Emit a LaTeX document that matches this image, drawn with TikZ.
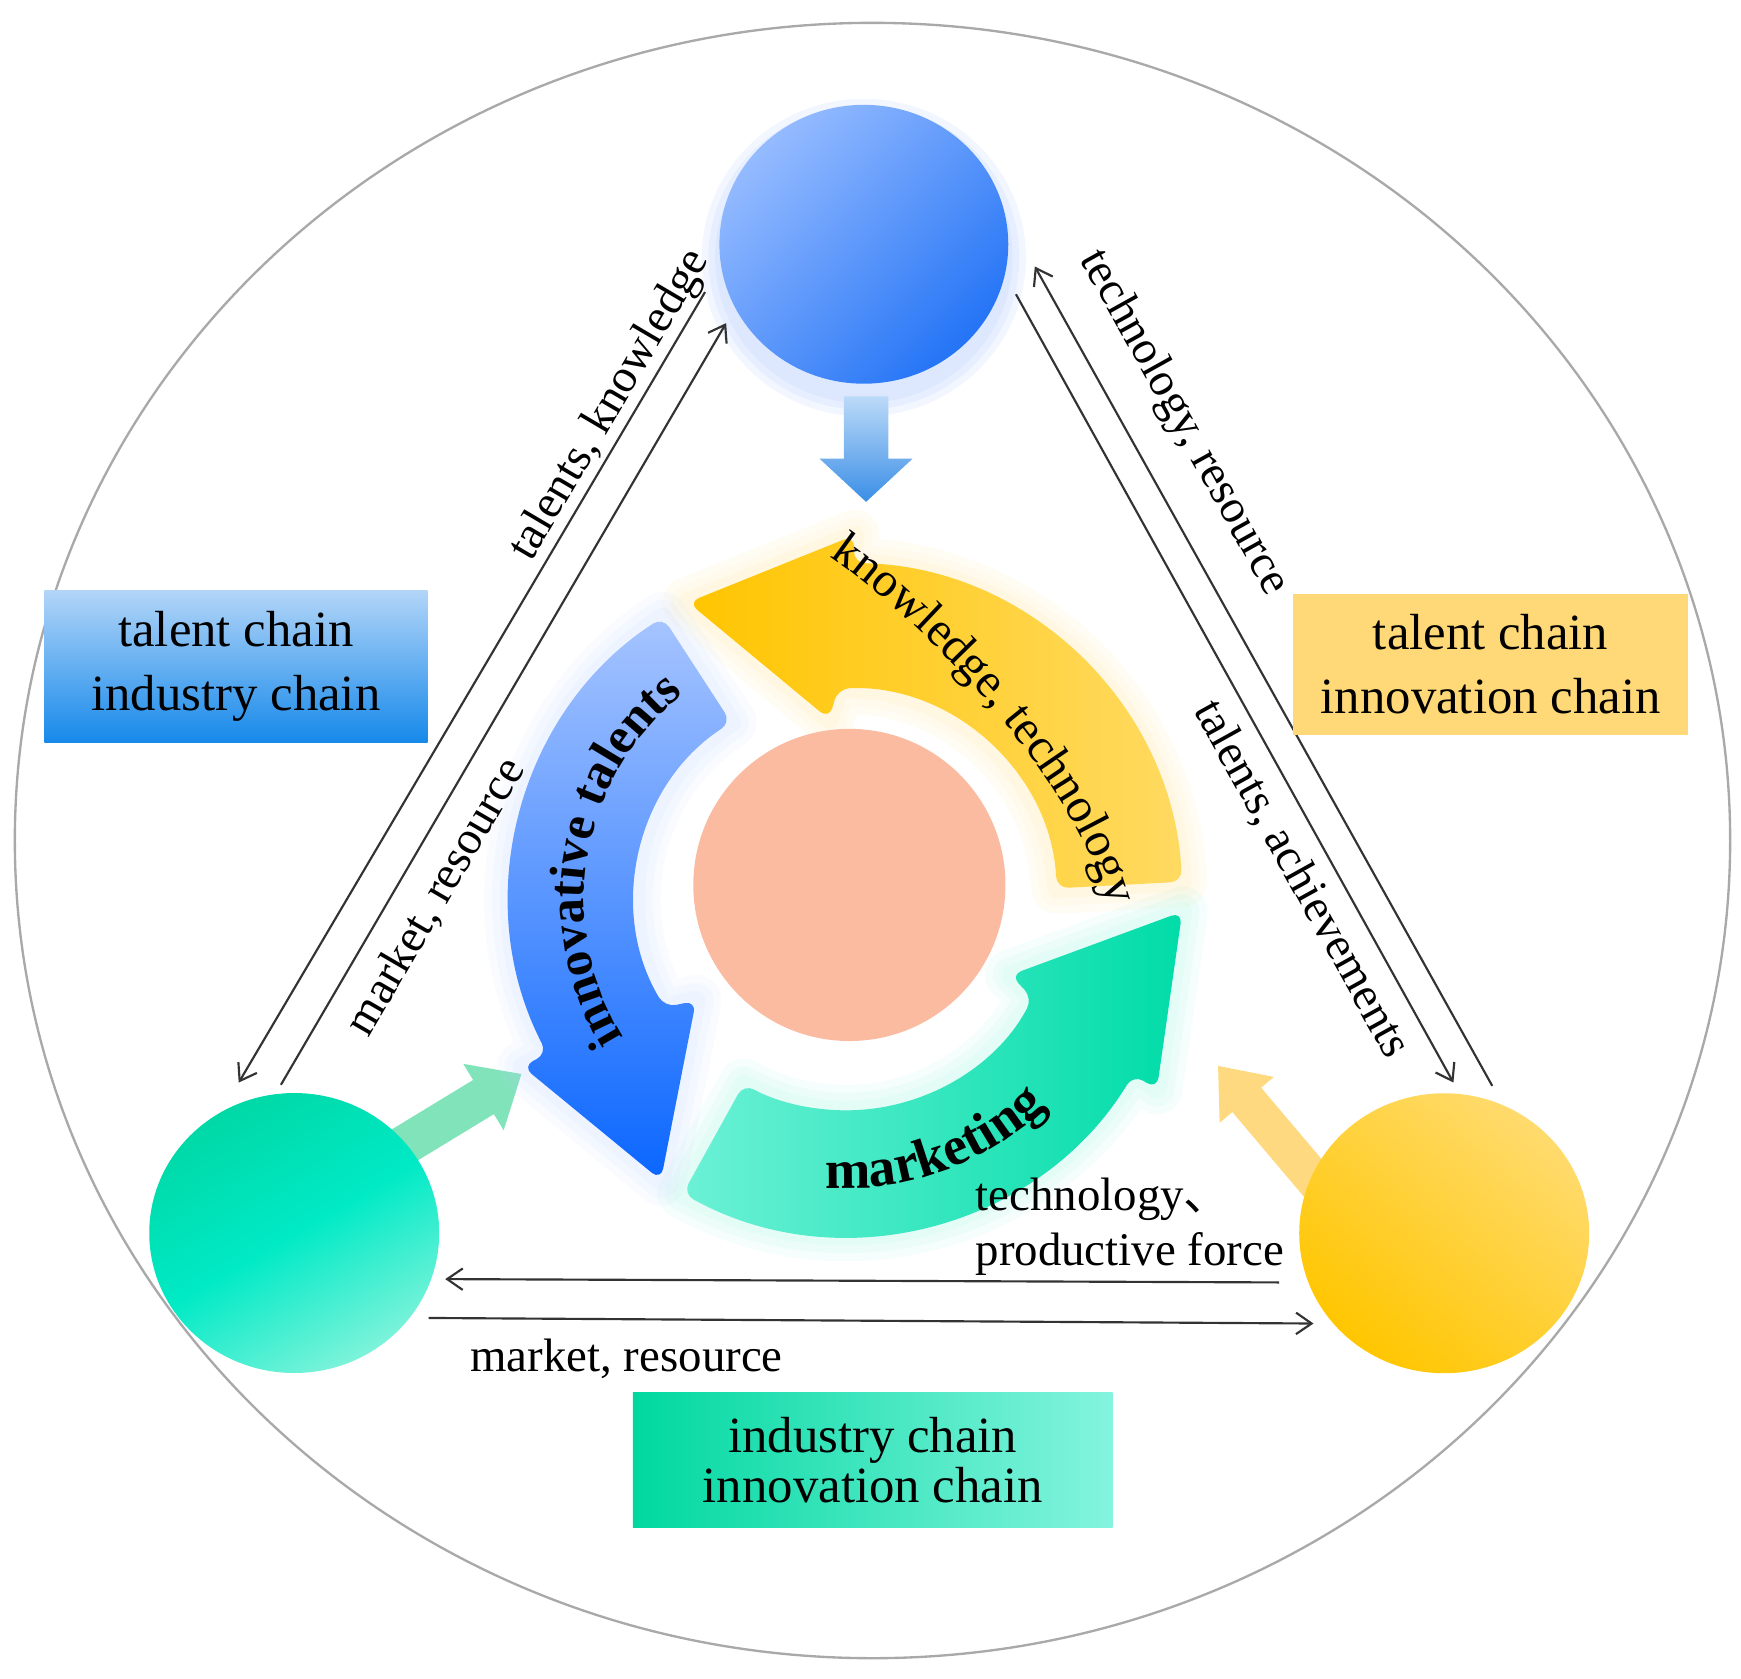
\documentclass[tikz,border=0pt]{standalone}
\usepackage{fontspec}
\setmainfont{Liberation Serif}
\newfontfamily\cjk{Noto Sans CJK SC}
\usetikzlibrary{arrows.meta,decorations.text,shapes.geometric}
\definecolor{lineC}{HTML}{333333}
\definecolor{rimC}{HTML}{A9A9A9}
\definecolor{coreC}{HTML}{FBBBA1}
\definecolor{topA}{HTML}{95BBFF}
\definecolor{topB}{HTML}{2474F6}
\definecolor{grnA}{HTML}{00D8A6}
\definecolor{grnM}{HTML}{00EAC6}
\definecolor{grnB}{HTML}{7DF3DA}
\definecolor{yelA}{HTML}{FFDB6E}
\definecolor{yelB}{HTML}{FFC600}
\definecolor{ringYa}{HTML}{FFC500}
\definecolor{ringYb}{HTML}{FFDA62}
\definecolor{ringBa}{HTML}{A6C4FF}
\definecolor{ringBb}{HTML}{0A66FF}
\definecolor{ringGa}{HTML}{6CF1D6}
\definecolor{ringGb}{HTML}{00DCA8}
\definecolor{glowB}{HTML}{B9D1FF}
\definecolor{glowY}{HTML}{FFE08A}
\definecolor{glowG}{HTML}{8FF3DA}
\definecolor{smB1}{HTML}{BCDAF8}
\definecolor{smB2}{HTML}{3A8EE6}
\definecolor{smG}{HTML}{80E3B9}
\definecolor{smY}{HTML}{FFD980}
\definecolor{boxLa}{HTML}{B2D5F8}
\definecolor{boxLb}{HTML}{1689EA}
\definecolor{boxRc}{HTML}{FFD977}
\definecolor{boxBa}{HTML}{00D8A0}
\definecolor{boxBb}{HTML}{84F4DF}

\newcommand\ringshape[2]{(#1:303) arc[start angle=#1, end angle=#2, radius=303] -- (#2:328) -- ({#2+29.3}:303) -- ({#2+6.7}:163) -- ({#2+3.5}:190) arc[start angle={#2+3.5}, end angle=#1, radius=190] -- cycle}

\begin{document}
\begin{tikzpicture}[x=0.01cm, y=0.01cm,
  flow/.style={draw=lineC, line width=0.55pt, -{Straight Barb[length=4pt, width=5.5pt]}},
  lab/.style={font=\fontsize{12}{14}\selectfont, inner sep=0pt, text=black},
  chainbox/.style={inner sep=0pt, align=center, font=\fontsize{13}{16.4}\selectfont},
  blob/.style={ellipse, inner sep=0pt, minimum width=2.61cm, minimum height=2.52cm},
  arrowglow/.style={line join=round, opacity=0.09}]
\useasboundingbox (0,-1512) rectangle (1568,0);

% outer rim
\node[ellipse, draw=rimC, line width=0.6pt, minimum width=15.44cm, minimum height=14.72cm, inner sep=0pt] (rim) at (785.8,-757) {};

% soft glow of the top circle
\foreach \r in {146,140,134}
  \fill[glowB, opacity=0.2] (778,-232) ellipse[x radius=\r, y radius=\r-3];

% small arrows
\shade[top color=smB1, bottom color=smB2] (760,-357) -- (800,-357) -- (800,-413) -- (822,-413) -- (780,-452) -- (738,-413) -- (760,-413) -- cycle;
\begin{scope}[shift={(350,-1040)}, rotate=31.3]
  \fill[smG] (0,-18) -- (100,-18) -- (100,-35) -- (140,0) -- (100,35) -- (100,18) -- (0,18) -- cycle;
\end{scope}
\begin{scope}[shift={(1190,-1070)}, rotate=130.2]
  \fill[smY] (0,-17) -- (104,-17) -- (104,-32) -- (144,0) -- (104,32) -- (104,17) -- (0,17) -- cycle;
\end{scope}

% three circles
\node[blob, top color=topA, bottom color=topB, shading angle=45, minimum width=2.6cm, minimum height=2.51cm] (topc) at (778,-220) {};
\node[blob, top color=grnA, bottom color=grnB, middle color=grnM, shading angle=30] (grnc) at (265,-1110.5) {};
\node[blob, top color=yelA, bottom color=yelB, shading angle=-40] (yelc) at (1300.7,-1110.7) {};

% ring arrows
\begin{scope}[shift={(762,-810)}]
  \foreach \w in {13,9,5} {
    \path[draw=glowY, arrowglow, line width=\w pt] \ringshape{3}{88.7};
    \path[draw=glowB, arrowglow, line width=\w pt] \ringshape{123}{207.3};
    \path[draw=glowG, arrowglow, line width=\w pt] \ringshape{241}{328.6};
  }
  \shade[left color=ringYa, right color=ringYb, rounded corners=3pt] \ringshape{3}{88.7};
  \shade[top color=ringBa, bottom color=ringBb, rounded corners=3pt] \ringshape{123}{207.3};
  \shade[left color=ringGa, right color=ringGb, rounded corners=3pt] \ringshape{241}{328.6};
\end{scope}

% core
\node[circle, fill=coreC, minimum size=2.81cm, inner sep=0pt] (core) at (765,-797) {};

% connector ends
\coordinate (tkS) at (635,-263);  \coordinate (tkE) at (215,-975);
\coordinate (mrS) at (253,-977);  \coordinate (mrE) at (654,-291);
\coordinate (taS) at (915,-265);  \coordinate (taE) at (1309,-975);
\coordinate (trS) at (1344,-978); \coordinate (trE) at (932,-240);
\coordinate (tpS) at (1152,-1155); \coordinate (tpE) at (401,-1152);
\coordinate (bmS) at (386,-1187); \coordinate (bmE) at (1183,-1192);

\draw[flow] (tkS) -- (tkE);
\draw[flow] (mrS) -- (mrE);
\draw[flow] (taS) -- (taE);
\draw[flow] (trS) -- (trE);
\draw[flow] (tpS) -- (tpE);
\draw[flow] (bmS) -- (bmE);

% labels
\node[lab, rotate=59.5] (lbTK) at (550,-365) {talents, knowledge};
\node[lab, rotate=59.8] (lbMR) at (393,-808) {market, resource};
\node[lab, rotate=-60.9] (lbTR) at (1066,-381) {technology, resource};
\node[lab, rotate=-61] (lbTA) at (1172,-792) {talents, achievements};
\node[lab, anchor=base west] (lbT1) at (878,-1090) {technology\cjk{、}};
\node[lab, anchor=base west] (lbT2) at (878,-1140) {productive force};
\node[lab, anchor=base west] (lbMB) at (423,-1235) {market, resource};

% boxes
\node[chainbox, top color=boxLa, bottom color=boxLb, minimum width=3.45cm, minimum height=1.37cm] (boxL) at (212.5,-600.5) {talent chain\\industry chain};
\node[chainbox, fill=boxRc, minimum width=3.56cm, minimum height=1.27cm] (boxR) at (1342.5,-598.5) {talent chain\\innovation chain};
\node[chainbox, left color=boxBa, right color=boxBb, minimum width=4.32cm, minimum height=1.22cm, font=\fontsize{13}{12.8}\selectfont] (boxB) at (786,-1315) {industry chain\\innovation chain};

% texts along the ring
\path[decorate, decoration={text along path, text={|\fontsize{12.5}{14}\selectfont|knowledge, technology}}] (747,-501) .. controls (805,-540) and (975,-690) .. (1005,-840);
\begin{scope}[shift={(762,-810)}]
  \path[decorate, decoration={text along path, text align=center, text={|\bfseries\fontsize{13}{15}\selectfont|innovative talents}}] (216:236) arc[start angle=216, end angle=124, radius=236];
  \path[decorate, decoration={text along path, text align=center, text={|\bfseries\fontsize{14}{16}\selectfont|marketing}}] (262:260) arc[start angle=262, end angle=318, radius=260];
\end{scope}
\end{tikzpicture}
\end{document}
